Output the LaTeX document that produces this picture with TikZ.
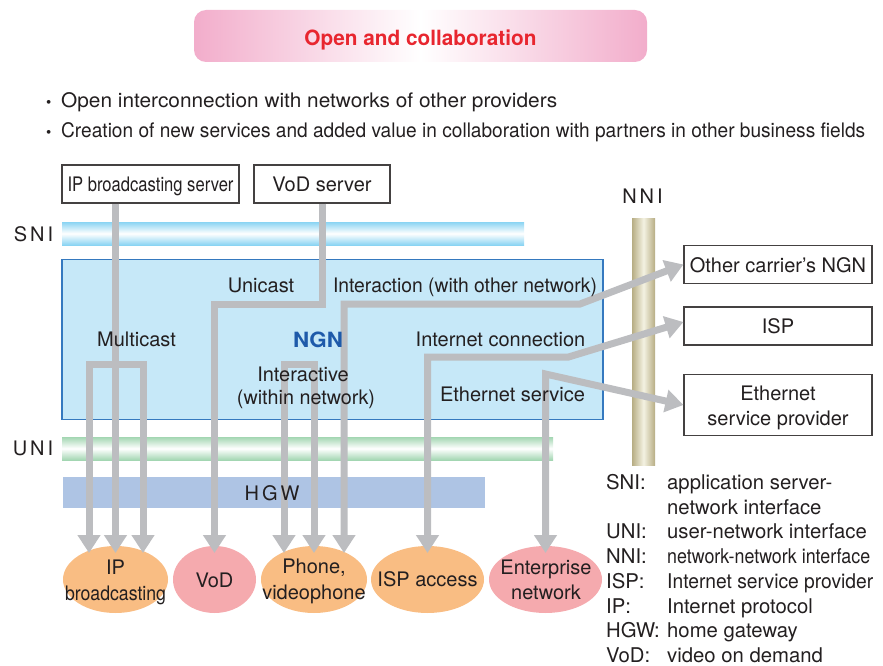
\documentclass[tikz,border=0pt]{standalone}
\usepackage{fontspec}
\setmainfont{TeX Gyre Heros}
\usepackage{graphicx}
\usetikzlibrary{arrows.meta,shapes.geometric}

\definecolor{ink}{HTML}{231F20}
\definecolor{titlered}{HTML}{E8262F}
\definecolor{titlepink}{HTML}{F2ADCB}
\definecolor{snicyan}{HTML}{8AD4F3}
\definecolor{unigreen}{HTML}{A3D6B2}
\definecolor{ngnfill}{HTML}{C6E8F8}
\definecolor{ngnedge}{HTML}{3579BF}
\definecolor{hgwblue}{HTML}{AEC4E4}
\definecolor{nnitan}{HTML}{B7AD84}
\definecolor{nnicream}{HTML}{F4F2E2}
\definecolor{pathgray}{HTML}{BCBDC0}
\definecolor{ovalorange}{HTML}{F9BD83}
\definecolor{ovalpink}{HTML}{F5AAAE}
\definecolor{ngnblue}{HTML}{1E5AAA}

% stretch or squeeze a text horizontally to a given width (in pt)
\newcommand{\fitw}[2]{\resizebox{#1pt}{\height}{#2}}
% small list dot in front of the aims
\newcommand{\aimdot}{\makebox[16pt][l]{\kern1pt{\fontsize{15pt}{15pt}\selectfont •}}}

\begin{document}
\begin{tikzpicture}[x=1pt, y=-1pt,
  >={Triangle[length=18pt,width=22pt]},
  txt/.style={font=\fontsize{20pt}{24.7pt}\selectfont, text=ink, inner sep=0pt, anchor=base},
  txtw/.style={txt, anchor=base west},
  boxbase/.style={draw=ink!85, line width=1.1pt, fill=white, minimum height=38pt,
    inner sep=0pt, font=\fontsize{20pt}{24.7pt}\selectfont, text=ink},
  srvbox/.style={boxbase, text height=15.5pt, text depth=0pt},
  band/.style={anchor=north west, inner sep=0pt, outer sep=0pt},
  oval/.style={ellipse, minimum height=67pt, inner sep=0pt, outer sep=0pt},
  flow/.style={draw=pathgray, line width=7pt, line join=miter},
]
\useasboundingbox (0,0) rectangle (883,666);

% heading and the two aims
\node[rounded corners=12pt, minimum width=453pt, minimum height=52pt, inner sep=0pt,
  left color=titlepink, right color=titlepink, middle color=white,
  text=titlered, font=\fontsize{21pt}{24pt}\selectfont\bfseries,
  text height=19pt, text depth=0pt] (title) at (420.5,36) {\fitw{232}{Open and collaboration}};
\node[txtw] (aimA) at (45,108) {\aimdot\fitw{496}{Open interconnection with networks of other providers}};
\node[txtw] (aimB) at (45,137.5) {\aimdot\fitw{804}{Creation of new services and added value in collaboration with partners in other business fields}};

% interfaces, network and home gateway
\node[band, minimum width=462pt, minimum height=23pt, top color=snicyan, bottom color=snicyan, middle color=white] (sniband) at (62,222) {};
\node[band, minimum width=541pt, minimum height=160pt, fill=ngnfill, draw=ngnedge, line width=1.8pt] (ngn) at (62,259.5) {};
\node[band, minimum width=491pt, minimum height=23pt, top color=unigreen, bottom color=unigreen, middle color=white] (uniband) at (62,437) {};
\node[band, minimum width=422pt, minimum height=31pt, fill=hgwblue] (hgw) at (63,477) {};
\node[band, minimum width=23pt, minimum height=247pt, left color=nnitan, right color=nnitan, middle color=nnicream] (nnipillar) at (632,218) {};

% servers and outside providers
\node[srvbox, minimum width=177pt] (ipsrv) at (150.5,184) {\fitw{166}{IP broadcasting server}};
\node[srvbox, minimum width=136pt] (vodsrv) at (322,184) {VoD server};
\node[srvbox, minimum width=188pt] (ocn) at (778,264.5) {Other carrier's NGN};
\node[srvbox, minimum width=188pt] (isp) at (778,326) {ISP};
\node[boxbase, minimum width=188pt, minimum height=61pt, align=center, text height=44pt, text depth=4pt] (esp) at (778,405) {Ethernet\\service provider};

% user-side services
\node[oval, fill=ovalorange, minimum width=105pt] (eip) at (115.5,579.5) {};
\node[oval, fill=ovalpink, minimum width=83pt] (evod) at (214.5,579.5) {};
\node[oval, fill=ovalorange, minimum width=106pt] (eph) at (314,579.5) {};
\node[oval, fill=ovalorange, minimum width=113pt] (eisp) at (427.5,579.5) {};
\node[oval, fill=ovalpink, minimum width=113pt] (eent) at (545.5,579.5) {};

% arrow tip points on the ovals
\coordinate (ipL) at ([xshift=-26.5pt,yshift=-7pt]eip.north);
\coordinate (ipC) at ([yshift=-7pt]eip.north);
\coordinate (ipR) at ([xshift=27.5pt,yshift=-7pt]eip.north);
\coordinate (vodT) at ([yshift=-7pt]evod.north);
\coordinate (phL) at ([xshift=-30pt,yshift=-7pt]eph.north);
\coordinate (phC) at ([yshift=-7pt]eph.north);
\coordinate (phR) at ([xshift=30pt,yshift=-7pt]eph.north);
\coordinate (ispT) at ([yshift=-7pt]eisp.north);
\coordinate (entT) at ([yshift=-7pt]eent.north);

% traffic flows
\draw[flow,->] (ipsrv.south -| ipC) -- (ipC);
\draw[flow,<->] (ipL) -- ++(0,-189) -| (ipR);
\draw[flow,->] (vodsrv.south) -- ++(0,101) -| (vodT);
\draw[flow,<->] (phL) -- ++(0,-189) -| (phC);
\draw[flow,<->] (phR) -- ++(0,-249) -- ++(236,0) -- (ocn.west);
\draw[flow,<->] (ispT) -- ++(0,-196) -- ++(141,0) -- ([yshift=4pt]isp.west);
\draw[flow,<->] (entT) -- ++(0,-179) -- (esp.west);

% interface labels
\node[txt] (lsni) at (33.5,241) {S\kern3pt N\kern3pt I};
\node[txt] (luni) at (33,455) {U\kern3pt N\kern3pt I};
\node[txt] (lnni) at (642.5,203) {N\kern3pt N\kern3pt I};
\node[txt] (lhgw) at (272,500) {H\kern3pt G\kern3pt W};

% labels inside the network
\node[txt] (lunicast) at (261,292) {Unicast};
\node[txt] (linteraction) at (465,292) {\fitw{264}{Interaction (with other network)}};
\node[txt] (lmulticast) at (136.5,346) {Multicast};
\node[txt, text=ngnblue, font=\fontsize{21pt}{24pt}\selectfont\bfseries] (lngn) at (318,347) {\fitw{50}{NGN}};
\node[txt] (linternet) at (500.5,346) {Internet connection};
\node[txt] (linteractive) at (303,381) {Interactive};
\node[txt] (lwithin) at (306,404) {\fitw{138}{(within network)}};
\node[txt] (lethernet) at (512.5,401) {Ethernet service};

% labels of the services
\node[txt] (tip1) at (115.5,574) {IP};
\node[txt] (tip2) at (115.5,600) {\fitw{101}{broadcasting}};
\node[txt] (tvod) at (214.5,587) {VoD};
\node[txt] (tph1) at (314,573) {Phone,};
\node[txt] (tph2) at (314,599) {videophone};
\node[txt] (tisp) at (427.5,586) {ISP access};
\node[txt] (tent1) at (546,574) {Enterprise};
\node[txt] (tent2) at (546,599) {network};

% abbreviations
\begin{scope}[every node/.style={txtw, font=\fontsize{20.3pt}{24.7pt}\selectfont}]
\node (ka) at (606,489.5) {SNI:};
\node (va) at (667,489.5) {application server-};
\node (vb) at (667,514.2) {network interface};
\node (kc) at (606,538.9) {UNI:};
\node (vc) at (667,538.9) {user-network interface};
\node (kd) at (606,563.6) {NNI:};
\node (vd) at (667,563.6) {\fitw{203}{network-network interface}};
\node (ke) at (606,588.3) {ISP:};
\node (ve) at (667,588.3) {\fitw{206}{Internet service provider}};
\node (kf) at (606,613) {IP:};
\node (vf) at (667,613) {Internet protocol};
\node (kg) at (606,637.7) {HGW:};
\node (vg) at (667,637.7) {home gateway};
\node (kh) at (606,662.2) {VoD:};
\node (vh) at (667,662.2) {video on demand};
\end{scope}
\end{tikzpicture}
\end{document}
